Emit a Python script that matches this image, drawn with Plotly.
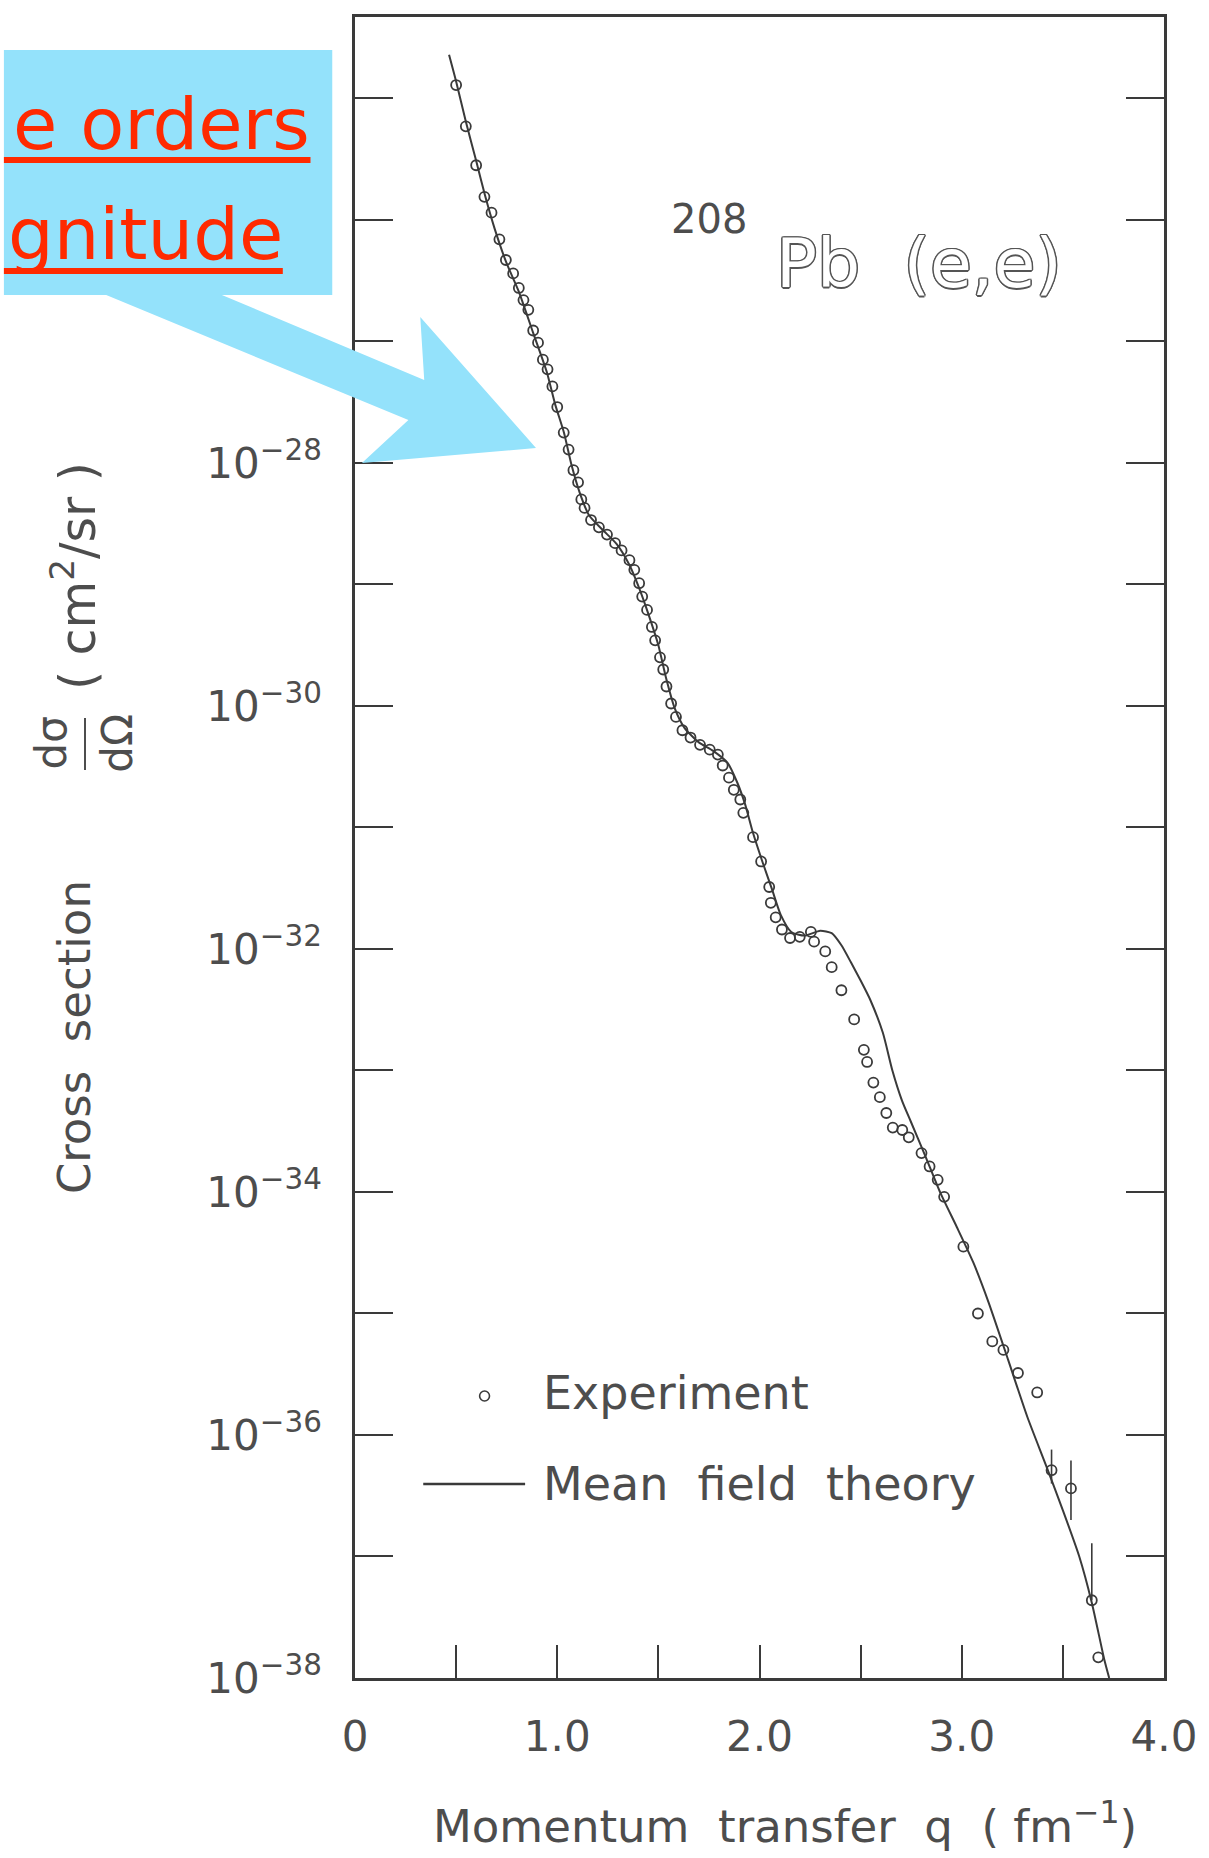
import numpy as np
import plotly.graph_objects as go

# ---------------- data ----------------
# Mean field theory curve: momentum transfer q (fm^-1) and log10 of dσ/dΩ (cm^2/sr)
theory_q = [0.465, 0.500, 0.548, 0.600, 0.643, 0.690, 0.748, 0.810, 0.881, 0.948,
            0.990, 1.033, 1.071, 1.110, 1.157, 1.224, 1.295, 1.357, 1.405, 1.452,
            1.500, 1.538, 1.581, 1.629, 1.700, 1.771, 1.843, 1.890, 1.929, 1.967,
            2.014, 2.062, 2.105, 2.157, 2.224, 2.300, 2.357, 2.405, 2.452, 2.500,
            2.548, 2.610, 2.657, 2.705, 2.748, 2.819, 2.895, 2.976, 3.057, 3.133,
            3.229, 3.324, 3.419, 3.500, 3.581, 3.643, 3.705, 3.729]
theory_log10_sigma = [-24.64, -24.86, -25.19, -25.52, -25.80, -26.07, -26.35, -26.59, -26.93, -27.25,
                      -27.52, -27.75, -28.02, -28.24, -28.43, -28.55, -28.67, -28.84, -29.03, -29.25,
                      -29.50, -29.77, -30.02, -30.18, -30.30, -30.37, -30.47, -30.63, -30.81, -31.04,
                      -31.28, -31.51, -31.72, -31.86, -31.89, -31.85, -31.87, -31.97, -32.11, -32.26,
                      -32.42, -32.69, -33.00, -33.25, -33.42, -33.70, -34.01, -34.29, -34.58, -34.91,
                      -35.38, -35.85, -36.26, -36.62, -37.00, -37.38, -37.85, -38.00]

# Experiment points
exp_q = [0.500, 0.548, 0.599, 0.640, 0.675, 0.714, 0.746, 0.782, 0.810, 0.833,
         0.857, 0.881, 0.905, 0.929, 0.952, 0.976, 1.000, 1.032, 1.056, 1.080,
         1.103, 1.119, 1.135, 1.167, 1.206, 1.246, 1.286, 1.318, 1.357, 1.381,
         1.405, 1.420, 1.444, 1.468, 1.484, 1.508, 1.524, 1.540, 1.563, 1.587,
         1.619, 1.659, 1.706, 1.754, 1.794, 1.818, 1.849, 1.873, 1.905, 1.920,
         1.968, 2.008, 2.048, 2.056, 2.080, 2.111, 2.151, 2.199, 2.254, 2.270,
         2.325, 2.357, 2.405, 2.468, 2.516, 2.532, 2.563, 2.595, 2.627, 2.659,
         2.706, 2.738, 2.801, 2.841, 2.881, 2.913, 3.008, 3.080, 3.151, 3.206,
         3.278, 3.373, 3.675]
exp_log10_sigma = [-24.89, -25.23, -25.55, -25.81, -25.94, -26.16, -26.33, -26.44, -26.56, -26.66,
                   -26.74, -26.91, -27.01, -27.15, -27.23, -27.37, -27.54, -27.75, -27.89, -28.06,
                   -28.16, -28.30, -28.37, -28.47, -28.53, -28.59, -28.66, -28.72, -28.80, -28.88,
                   -28.99, -29.10, -29.21, -29.35, -29.46, -29.60, -29.70, -29.84, -29.98, -30.09,
                   -30.20, -30.26, -30.32, -30.36, -30.40, -30.49, -30.59, -30.69, -30.77, -30.88,
                   -31.08, -31.28, -31.49, -31.62, -31.74, -31.84, -31.91, -31.90, -31.86, -31.94,
                   -32.02, -32.15, -32.34, -32.58, -32.83, -32.93, -33.10, -33.22, -33.35, -33.47,
                   -33.49, -33.55, -33.68, -33.79, -33.90, -34.04, -34.45, -35.00, -35.23, -35.30,
                   -35.49, -35.65, -37.83]

# Experiment points with visible error bars (log10 of value, upper and lower bound)
errpt_q = [3.444, 3.540, 3.643]
errpt_log10_sigma = [-36.29, -36.44, -37.36]
errpt_log10_hi = [-36.12, -36.21, -36.89]
errpt_log10_lo = [-36.40, -36.70, -37.36]

# axis ticks
x_labelled = [0, 1.0, 2.0, 3.0, 4.0]
x_labels = ["0", "1.0", "2.0", "3.0", "4.0"]
x_minor = [0.5, 1.5, 2.5, 3.5]
y_labelled = [-38, -36, -34, -32, -30, -28]
y_unlabelled = [-37, -35, -33, -31, -29, -27, -26, -25]

# ---------------- figure ----------------
W, H = 1209, 1858
L, R, T, B = 355, 1173, 17, 1678
INK = "#3a3a3a"
TXT = "#4d4d4d"
FONT = "DejaVu Sans"


def PX(x):
    return (x - L) / (R - L)


def PY(y):
    return (B - y) / (B - T)


fig = go.Figure()

fig.add_trace(go.Scatter(
    x=theory_q, y=np.power(10.0, theory_log10_sigma), mode="lines",
    line=dict(color=INK, width=2, shape="spline", smoothing=0.6),
    name="Mean field theory", showlegend=False))

fig.add_trace(go.Scatter(
    x=exp_q, y=np.power(10.0, exp_log10_sigma), mode="markers",
    marker=dict(symbol="circle-open", size=10, color=INK, line=dict(width=1.8)),
    name="Experiment", showlegend=False))

ev = np.power(10.0, errpt_log10_sigma)
fig.add_trace(go.Scatter(
    x=errpt_q, y=ev, mode="markers",
    marker=dict(symbol="circle-open", size=10, color=INK, line=dict(width=1.8)),
    error_y=dict(type="data", symmetric=False,
                 array=np.power(10.0, errpt_log10_hi) - ev,
                 arrayminus=ev - np.power(10.0, errpt_log10_lo),
                 color=INK, thickness=1.6, width=0),
    name="Experiment", showlegend=False))

fig.update_layout(
    width=W, height=H,
    margin=dict(l=L, r=W - R, t=T, b=H - B),
    paper_bgcolor="white", plot_bgcolor="white",
    showlegend=False,
    font=dict(family=FONT, color=TXT),
    xaxis=dict(range=[0, 4], tickmode="array", tickvals=x_labelled, ticktext=x_labels,
               ticks="inside", ticklen=33, tickwidth=2, tickcolor=INK,
               minor=dict(tickmode="array", tickvals=x_minor, ticks="inside",
                          ticklen=33, tickwidth=2, tickcolor=INK, showgrid=False),
               showline=True, linecolor=INK, linewidth=2.5, mirror=True,
               showgrid=False, zeroline=False,
               tickfont=dict(size=42, color=TXT, family=FONT), ticklabelstandoff=20),
    yaxis=dict(type="log", range=[-38, -24.33], tickmode="array",
               tickvals=[10.0 ** e for e in y_labelled],
               ticktext=["10<sup>\u2212%d</sup>" % (-e) for e in y_labelled],
               ticks="inside", ticklen=38, tickwidth=2, tickcolor=INK,
               minor=dict(tickmode="array", tickvals=[10.0 ** e for e in y_unlabelled],
                          ticks="inside", ticklen=38, tickwidth=2, tickcolor=INK, showgrid=False),
               showline=True, linecolor=INK, linewidth=2.5, mirror="ticks",
               showgrid=False, zeroline=False,
               tickfont=dict(size=42, color=TXT, family=FONT), ticklabelstandoff=22),
)

ann = []
# axis titles
ann.append(dict(x=PX(790), y=PY(1824), xref="paper", yref="paper",
                text="Momentum  transfer  q  ( fm<sup>\u22121</sup>)", showarrow=False,
                font=dict(size=45, color=TXT, family=FONT), xanchor="center", yanchor="middle"))
ann.append(dict(x=PX(71), y=PY(1037), xref="paper", yref="paper", textangle=-90,
                text="Cross  section", showarrow=False,
                font=dict(size=45, color=TXT, family=FONT), xanchor="center", yanchor="middle"))
ann.append(dict(x=PX(48), y=PY(743), xref="paper", yref="paper", textangle=-90,
                text="d\u03c3", showarrow=False,
                font=dict(size=42, color=TXT, family=FONT), xanchor="center", yanchor="middle"))
ann.append(dict(x=PX(114), y=PY(743), xref="paper", yref="paper", textangle=-90,
                text="d\u03a9", showarrow=False,
                font=dict(size=42, color=TXT, family=FONT), xanchor="center", yanchor="middle"))
ann.append(dict(x=PX(71), y=PY(576), xref="paper", yref="paper", textangle=-90,
                text="( cm<sup>2</sup>/sr )", showarrow=False,
                font=dict(size=49, color=TXT, family=FONT), xanchor="center", yanchor="middle"))
# legend
ann.append(dict(x=PX(543), y=PY(1393), xref="paper", yref="paper", text="Experiment",
                showarrow=False, font=dict(size=46, color=TXT, family=FONT),
                xanchor="left", yanchor="middle"))
ann.append(dict(x=PX(543), y=PY(1484), xref="paper", yref="paper", text="Mean  field  theory",
                showarrow=False, font=dict(size=46, color=TXT, family=FONT),
                xanchor="left", yanchor="middle"))
# reaction label
ann.append(dict(x=PX(713), y=PY(219), xref="paper", yref="paper", text="208",
                showarrow=False, font=dict(size=40, color=TXT, family=FONT),
                xanchor="center", yanchor="middle"))
outline = ("1px 1px 0 #555, -1px -1px 0 #555, 1px -1px 0 #555, -1px 1px 0 #555, "
           "0 1.5px 0 #555, 0 -1.5px 0 #555, 1.5px 0 0 #555, -1.5px 0 0 #555")
ann.append(dict(x=PX(925), y=PY(263), xref="paper", yref="paper", text="Pb  (e,e)",
                showarrow=False, font=dict(size=68, color="white", family=FONT, shadow=outline),
                xanchor="center", yanchor="middle"))
# call-out text
ann.append(dict(x=PX(312), y=PY(124), xref="paper", yref="paper", text="e orders",
                showarrow=False, font=dict(size=72, color="#FF2A00", family=FONT),
                xanchor="right", yanchor="middle"))
ann.append(dict(x=PX(284), y=PY(234), xref="paper", yref="paper", text="gnitude",
                showarrow=False, font=dict(size=72, color="#FF2A00", family=FONT),
                xanchor="right", yanchor="middle"))

shapes = []
CYAN = "#94E2FB"
shapes.append(dict(type="rect", xref="paper", yref="paper",
                   x0=PX(0), x1=PX(332), y0=PY(295), y1=PY(50),
                   fillcolor=CYAN, line=dict(width=0), layer="below"))
arrow_px = [(101, 294), (218, 294), (425, 380), (421, 317), (538, 448), (362, 463), (409, 420)]
path = "M " + " L ".join("%.5f,%.5f" % (PX(a), PY(b)) for a, b in arrow_px) + " Z"
shapes.append(dict(type="path", xref="paper", yref="paper", path=path,
                   fillcolor=CYAN, line=dict(width=0), layer="above"))
# underlines
shapes.append(dict(type="line", xref="paper", yref="paper", x0=PX(0), x1=PX(310),
                   y0=PY(160), y1=PY(160), line=dict(color="#FF2A00", width=6)))
shapes.append(dict(type="line", xref="paper", yref="paper", x0=PX(0), x1=PX(282),
                   y0=PY(271), y1=PY(271), line=dict(color="#FF2A00", width=6)))
# fraction bar of dσ/dΩ
shapes.append(dict(type="line", xref="paper", yref="paper", x0=PX(82), x1=PX(82),
                   y0=PY(718), y1=PY(770), line=dict(color=TXT, width=2)))
# legend symbols
shapes.append(dict(type="circle", xref="paper", yref="paper", x0=PX(481), x1=PX(491),
                   y0=PY(1401), y1=PY(1391), line=dict(color=INK, width=1.6)))
shapes.append(dict(type="line", xref="paper", yref="paper", x0=PX(424), x1=PX(527),
                   y0=PY(1484), y1=PY(1484), line=dict(color=INK, width=2.5)))

fig.update_layout(annotations=ann, shapes=shapes)
fig.write_html("out.html")
